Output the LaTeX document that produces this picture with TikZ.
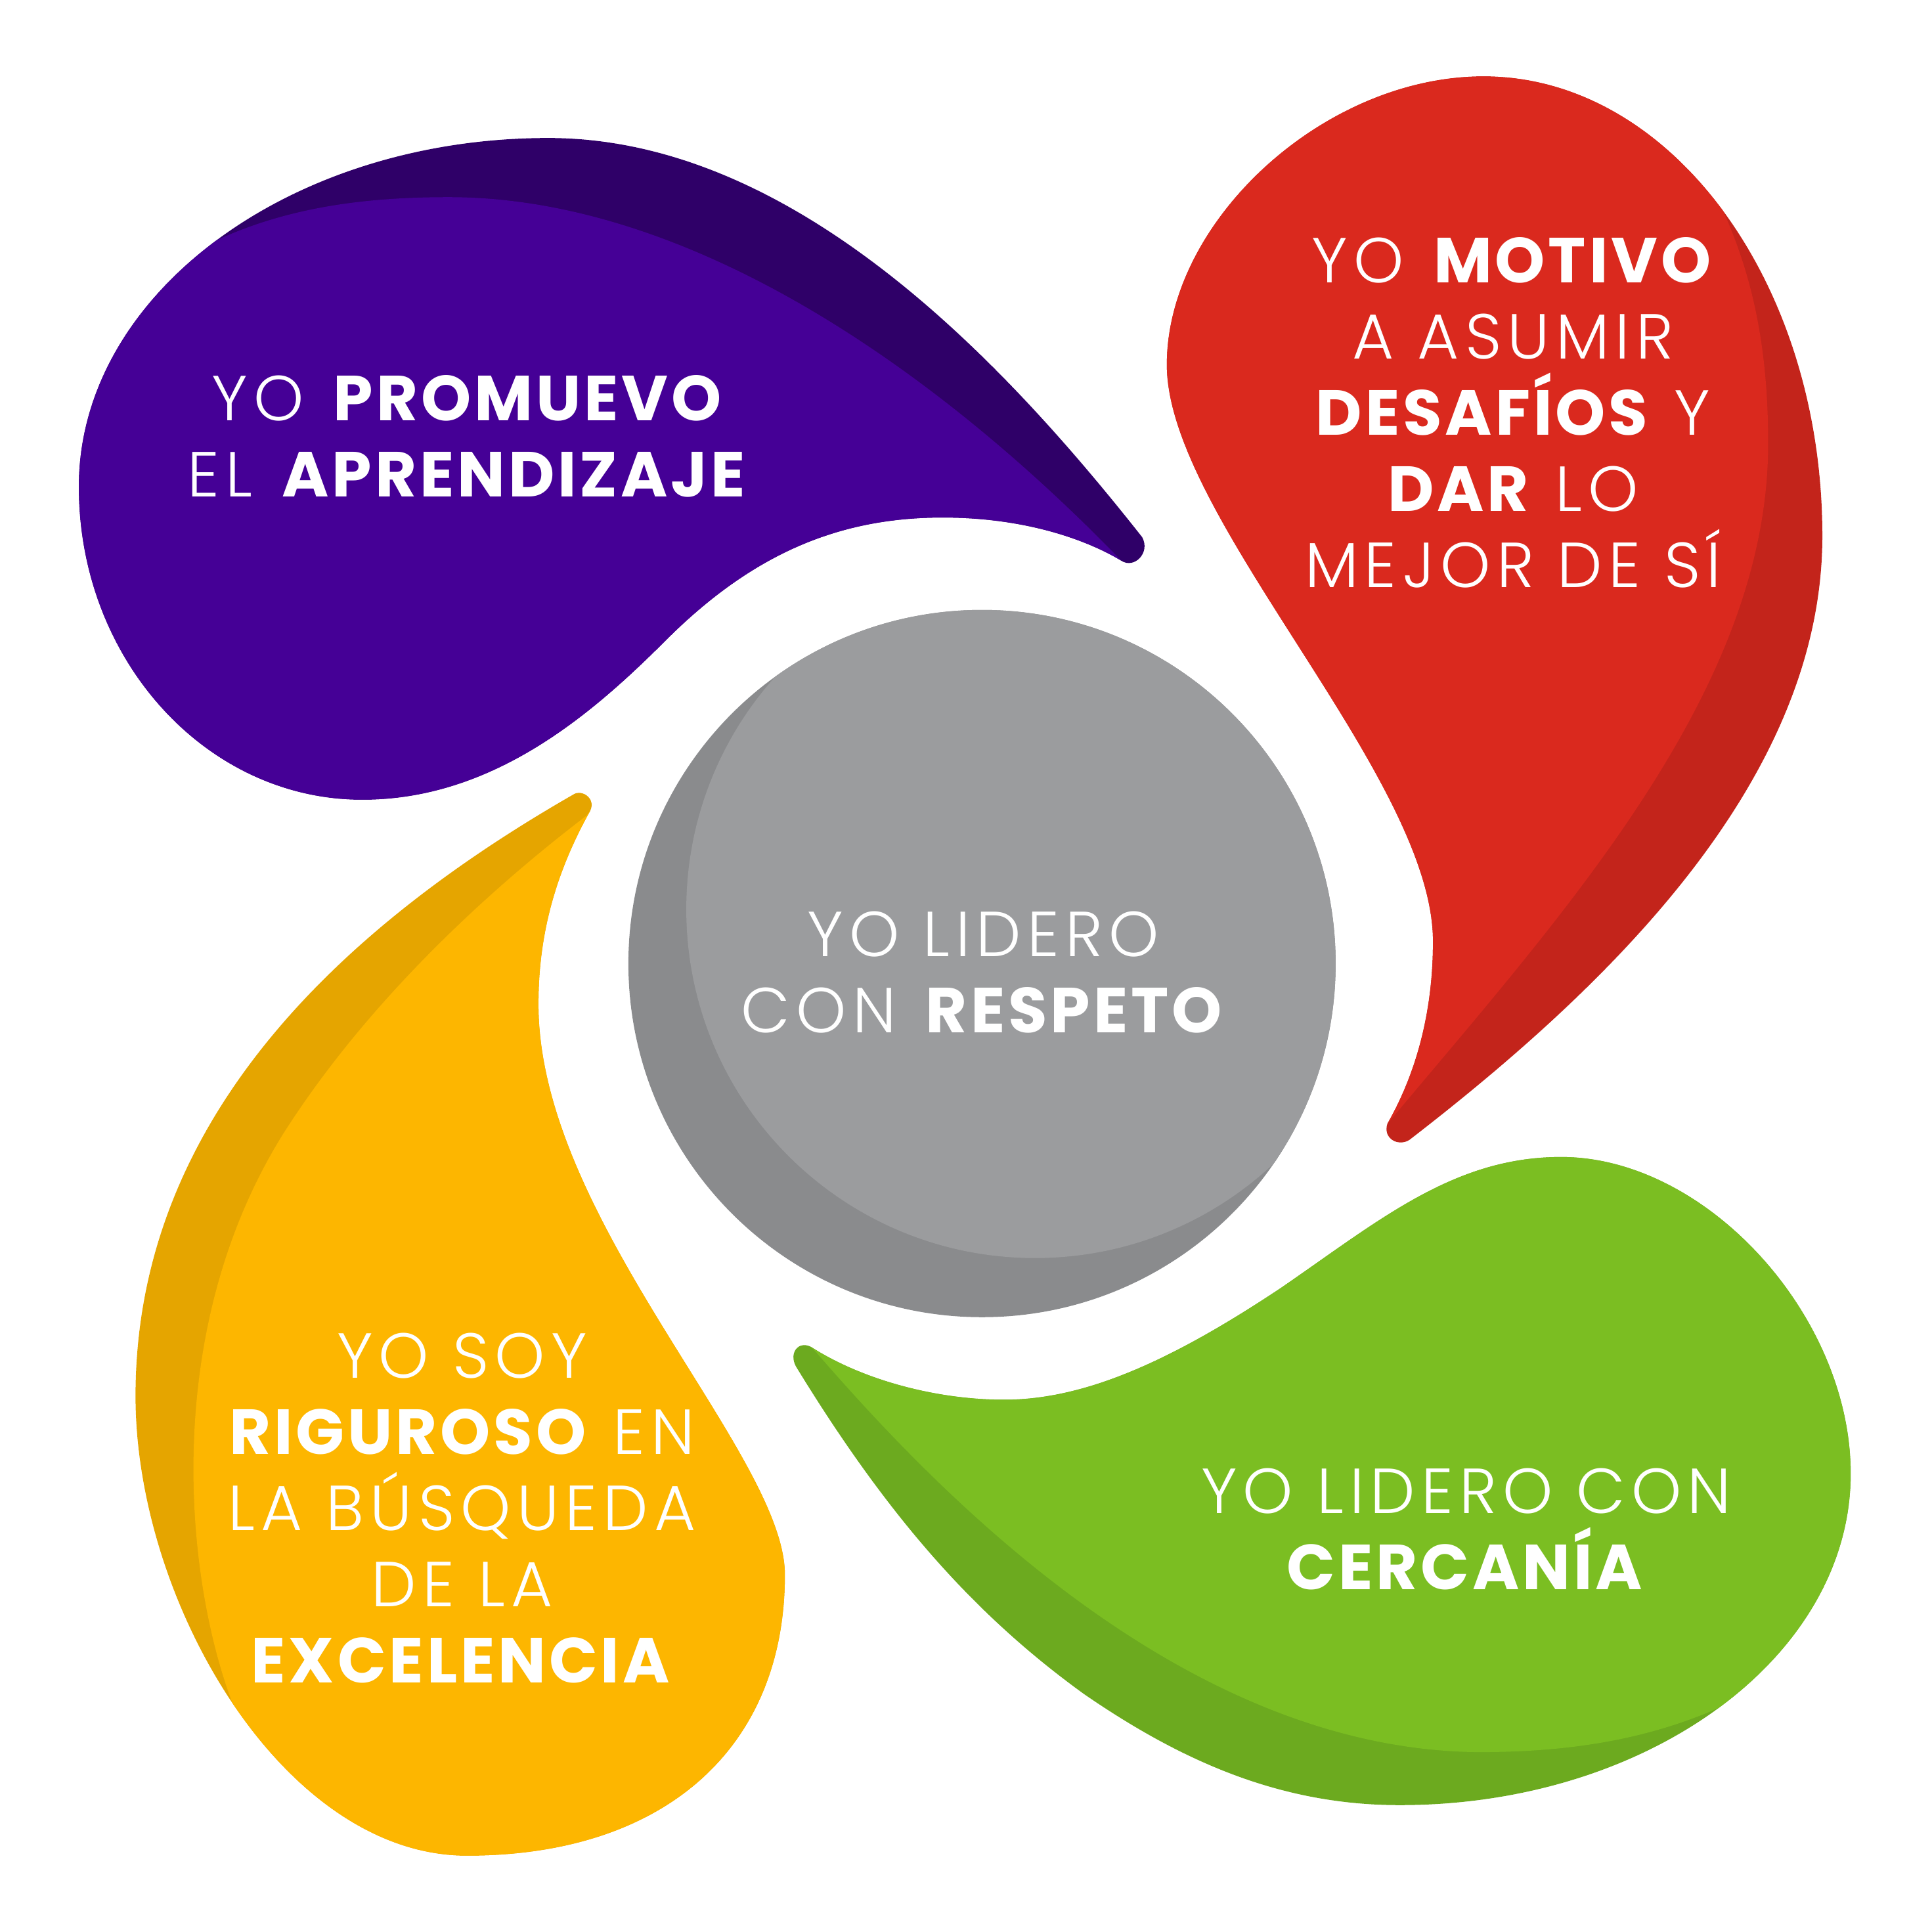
\documentclass[tikz,border=0pt]{standalone}
\usepackage{fontspec}
\setmainfont{Poppins}[UprightFont=* Light,BoldFont=* Bold,
  UprightFeatures={LetterSpace=9.5},BoldFeatures={LetterSpace=5}]
\usepackage{tikz}
\definecolor{vpurp}{HTML}{450096}
\definecolor{vpurpd}{HTML}{2F0068}
\definecolor{vred}{HTML}{DA291E}
\definecolor{vredd}{HTML}{C3241B}
\definecolor{vgrn}{HTML}{7BBE22}
\definecolor{vgrnd}{HTML}{6CAA1F}
\definecolor{vyel}{HTML}{FDB600}
\definecolor{vyeld}{HTML}{E5A500}
\definecolor{vgrey}{HTML}{9B9C9E}
\definecolor{vgreyd}{HTML}{8A8B8D}
\tikzset{
  txt/.style={text=white,align=center,inner sep=0pt,font=\fontsize{14.7pt}{17.6pt}\selectfont},
}

\begin{document}
\begin{tikzpicture}[x=0.1mm,y=-0.1mm]
  \useasboundingbox (0,0) rectangle (1568,1568);
  % purple drop
  \fill[vpurpd] (927,436) .. controls (815,294) and (645,112) .. (445,112)
    .. controls (340,112) and (244.75,143.75) .. (175.75,195)
    .. controls (106.75,246.25) and (64,317) .. (64,395)
    .. controls (64,535) and (167,649) .. (294,649)
    .. controls (400,649) and (480,580) .. (540,520)
    .. controls (610,450) and (680,420) .. (765,420)
    .. controls (830,420) and (880,437) .. (910,455)
    .. controls (920,462) and (934,449) .. (927,436) -- cycle;
  \fill[vpurp] (175.75,195) .. controls (106.75,246.25) and (64,317) .. (64,395)
    .. controls (64,535) and (167,649) .. (294,649)
    .. controls (400,649) and (480,580) .. (540,520)
    .. controls (610,450) and (680,420) .. (765,420)
    .. controls (830,420) and (880,437) .. (910,455)
    .. controls (760,300) and (560,160) .. (364,160)
    .. controls (290,160) and (230,170) .. (175.75,195) -- cycle;
  % red drop
  \fill[vredd] (1204,62) .. controls (1280,62) and (1348.75,103.75) .. (1398.5,171.25)
    .. controls (1448.25,238.75) and (1479,332) .. (1479,435)
    .. controls (1479,635) and (1302,803) .. (1144,925)
    .. controls (1135,931) and (1122,924) .. (1126,912)
    .. controls (1150,870) and (1163,820) .. (1163,764)
    .. controls (1163,630) and (947,420) .. (947,296)
    .. controls (947,179) and (1075,62) .. (1204,62) -- cycle;
  \fill[vred] (1204,62) .. controls (1280,62) and (1348.75,103.75) .. (1398.5,171.25)
    .. controls (1425,230) and (1435,290) .. (1435,360)
    .. controls (1435,560) and (1270,740) .. (1126,912)
    .. controls (1150,870) and (1163,820) .. (1163,764)
    .. controls (1163,630) and (947,420) .. (947,296)
    .. controls (947,179) and (1075,62) .. (1204,62) -- cycle;
  % green drop
  \fill[vgrnd] (658,1093) .. controls (700,1120) and (760,1136) .. (815,1136)
    .. controls (880,1136) and (950,1105) .. (1040,1045)
    .. controls (1120,990) and (1180,939) .. (1267,939)
    .. controls (1385,939) and (1502,1068) .. (1502,1196)
    .. controls (1502,1270.25) and (1461,1337.5) .. (1394.75,1386.2)
    .. controls (1328.5,1434.9) and (1237,1465) .. (1136,1465)
    .. controls (1040,1465) and (960,1430) .. (880,1375)
    .. controls (790,1310) and (720,1230) .. (646,1109)
    .. controls (640,1098) and (648,1088) .. (658,1093) -- cycle;
  \fill[vgrn] (658,1093) .. controls (700,1120) and (760,1136) .. (815,1136)
    .. controls (880,1136) and (950,1105) .. (1040,1045)
    .. controls (1120,990) and (1180,939) .. (1267,939)
    .. controls (1385,939) and (1502,1068) .. (1502,1196)
    .. controls (1502,1270.25) and (1461,1337.5) .. (1394.75,1386.2)
    .. controls (1340,1410) and (1280,1422) .. (1200,1422)
    .. controls (960,1420) and (760,1210) .. (662,1097) -- cycle;
  % yellow drop
  \fill[vyeld] (479,658) .. controls (450,710) and (437,760) .. (437,815)
    .. controls (437,990) and (637,1180) .. (637,1278)
    .. controls (637,1419) and (539,1506) .. (379,1506)
    .. controls (304.5,1506) and (237.25,1454.5) .. (188.6,1382.1)
    .. controls (140,1309.75) and (110,1216.5) .. (110,1133)
    .. controls (110,950) and (221,785) .. (465,645)
    .. controls (472,640) and (484,648) .. (479,658) -- cycle;
  \fill[vyel] (479,658) .. controls (450,710) and (437,760) .. (437,815)
    .. controls (437,990) and (637,1180) .. (637,1278)
    .. controls (637,1419) and (539,1506) .. (379,1506)
    .. controls (304.5,1506) and (237.25,1454.5) .. (188.6,1382.1)
    .. controls (150,1280) and (130,1080) .. (230,920)
    .. controls (300,810) and (400,720) .. (476,662) -- cycle;
  % centre
  \fill[vgreyd] (797,782) circle (287);
  \begin{scope}
    \clip (797,782) circle (287);
    \fill[vgrey] (840,738) circle (283);
  \end{scope}

  \node[txt] (learn) at (380,354) {YO \textbf{PROMUEVO}\\EL \textbf{APRENDIZAJE}};
  \node[txt] (motiv) at (1228,335) {YO \textbf{MOTIVO}\\A ASUMIR\\\textbf{DESAFÍOS} Y\\\textbf{DAR} LO\\MEJOR DE SÍ};
  \node[txt] (lead) at (798,789) {YO LIDERO\\CON \textbf{RESPETO}};
  \node[txt] (near) at (1190,1241) {YO LIDERO CON\\\textbf{CERCANÍA}};
  \node[txt] (rigor) at (375,1224) {YO SOY\\\textbf{RIGUROSO} EN\\LA BÚSQUEDA\\DE LA\\\textbf{EXCELENCIA}};
\end{tikzpicture}
\end{document}
